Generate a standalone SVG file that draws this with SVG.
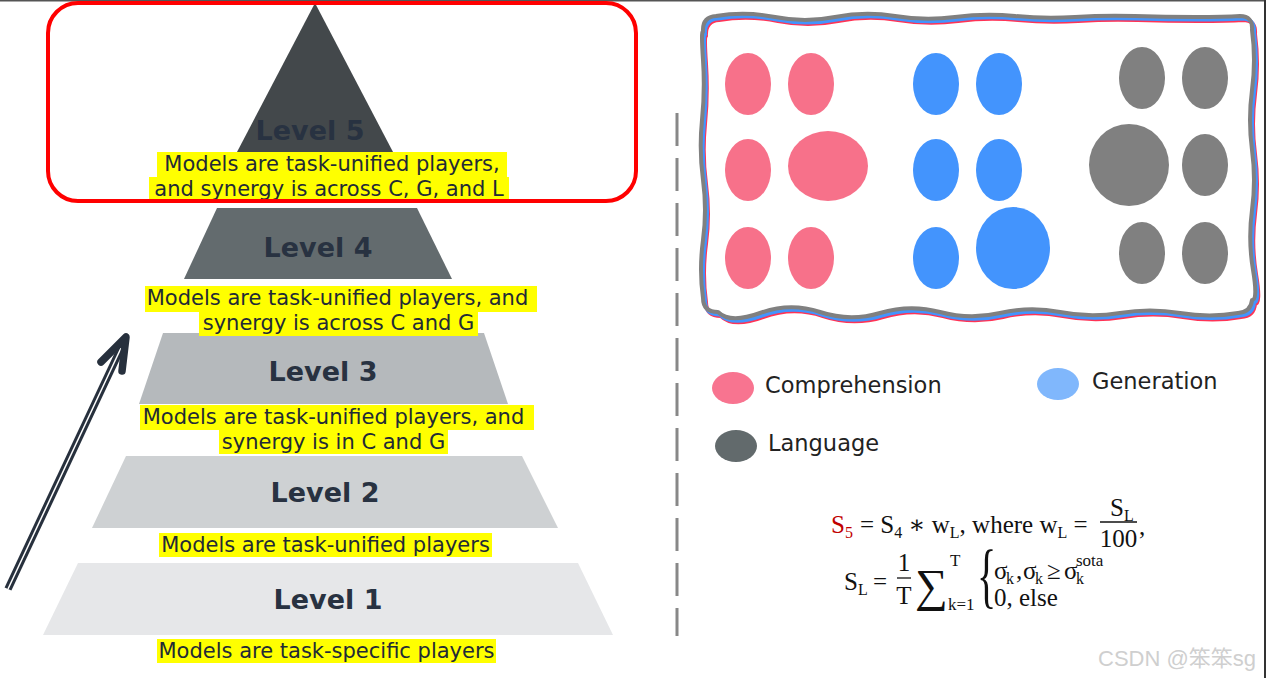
<svg xmlns="http://www.w3.org/2000/svg" width="1266" height="678" viewBox="0 0 1266 678">
<style>
.lvl{font-family:"DejaVu Sans",Verdana,sans-serif;font-weight:bold;font-size:27px;fill:#283241;text-anchor:middle}
.desc{font-family:"DejaVu Sans",Verdana,sans-serif;font-size:21px;fill:#222a36;text-anchor:middle}
.hl{fill:#ffff00}
.leg{font-family:"DejaVu Sans",Verdana,sans-serif;font-size:22.5px;fill:#222}
.m{font-family:"Liberation Serif","DejaVu Serif",serif;font-size:25px;fill:#111}
.ms{font-size:16px}
.m17{font-size:17px}
.pk{fill:#f7718a}
.bl{fill:#4394fd}
.gr{fill:#808080}
.wave{fill:none;stroke-width:4;stroke-linejoin:round}
</style>
<defs>
<path id="wavy" d="M716 16 Q745 11 775 17 T835 17 T895 16 T955 17 T1015 16 T1075 17 T1135 16 T1195 17 T1240 16 Q1253 16 1252 30 Q1256 60 1252 90 T1252 150 T1252 210 T1253 270 T1252 300 Q1251 312 1238 313 Q1210 318 1180 313 T1120 313 T1060 312 T1000 313 T940 312 T880 313 T820 312 T760 313 T718 312 Q703 312 703 298 Q699 270 703 240 T703 180 T702 120 T703 60 T703 32 Q702 17 716 16 Z"/>
</defs>
<rect width="1266" height="678" fill="#fff"/>
<line x1="0" y1="0.75" x2="1266" y2="0.75" stroke="#555" stroke-width="1.5"/>
<line x1="1265" y1="0" x2="1265" y2="678" stroke="#333" stroke-width="2"/>

<g id="level1">
<polygon points="78,563 578,563 613,635 43,635" fill="#e6e7e9"/>
<text class="lvl" x="328" y="609">Level 1</text>
<rect class="hl" x="157" y="639" width="339" height="24"/>
<text class="desc" x="326.5" y="658">Models are task-specific players</text>
</g>
<g id="level2">
<polygon points="126,456 522,456 558,528 92,528" fill="#ced1d3"/>
<text class="lvl" x="325" y="502">Level 2</text>
<rect class="hl" x="159" y="533" width="333" height="24"/>
<text class="desc" x="325.5" y="552">Models are task-unified players</text>
</g>
<g id="level3">
<polygon points="163,333 484,333 508,404 139,404" fill="#b5b9bc"/>
<text class="lvl" x="323" y="381">Level 3</text>
<rect class="hl" x="140" y="405" width="394" height="25"/>
<rect class="hl" x="219" y="430" width="229" height="24"/>
<text class="desc" x="333.5" y="424">Models are task-unified players, and</text>
<text class="desc" x="333.5" y="449">synergy is in C and G</text>
</g>
<g id="level4">
<polygon points="217,208 417,208 452,279 184,279" fill="#636b6e"/>
<text class="lvl" x="318" y="257">Level 4</text>
<rect class="hl" x="145" y="286" width="392" height="26"/>
<rect class="hl" x="199" y="312" width="279" height="24"/>
<text class="desc" x="337.5" y="305">Models are task-unified players, and</text>
<text class="desc" x="338.5" y="330">synergy is across C and G</text>
</g>
<g id="level5">
<polygon points="315,3 393,152 237,152" fill="#43484b"/>
<text class="lvl" x="310" y="140">Level 5</text>
<rect class="hl" x="157" y="152" width="350" height="25"/>
<rect class="hl" x="149" y="177" width="360" height="24"/>
<text class="desc" x="332" y="171">Models are task-unified players,</text>
<text class="desc" x="329" y="196">and synergy is across C, G, and L</text>
</g>
<g id="highlight-box">
<rect x="48" y="3" width="588" height="198" rx="30" fill="none" stroke="#ff0000" stroke-width="4"/>
</g>

<g id="connectors">
<line x1="8" y1="589" x2="122" y2="346" stroke="#27303d" stroke-width="7.5"/>
<line x1="8" y1="589" x2="121" y2="348" stroke="#fff" stroke-width="1.5"/>
<polyline points="101,362 126,337 122,371" fill="none" stroke="#27303d" stroke-width="7.5" stroke-linecap="round" stroke-linejoin="round"/>
</g>

<g id="divider">
<line x1="677" y1="113" x2="677" y2="636" stroke="#888" stroke-width="3" stroke-dasharray="33 12"/>
</g>

<g id="panel">
<use href="#wavy" class="wave" stroke="#ff3355" transform="translate(3,4)"/>
<use href="#wavy" class="wave" stroke="#4394fd" transform="translate(2,2.5)"/>
<use href="#wavy" class="wave" stroke="#808080"/>
<ellipse class="pk" cx="748" cy="84" rx="23" ry="31"/>
<ellipse class="pk" cx="811" cy="84" rx="23" ry="31"/>
<ellipse class="pk" cx="748" cy="170" rx="23" ry="31"/>
<ellipse class="pk" cx="828" cy="166" rx="40" ry="35"/>
<ellipse class="pk" cx="748" cy="258" rx="23" ry="31"/>
<ellipse class="pk" cx="811" cy="258" rx="23" ry="31"/>
<ellipse class="bl" cx="936" cy="84" rx="23" ry="31"/>
<ellipse class="bl" cx="999" cy="84" rx="23" ry="31"/>
<ellipse class="bl" cx="936" cy="170" rx="23" ry="31"/>
<ellipse class="bl" cx="999" cy="170" rx="23" ry="31"/>
<ellipse class="bl" cx="936" cy="258" rx="23" ry="31"/>
<ellipse class="bl" cx="1013" cy="248" rx="37" ry="41"/>
<ellipse class="gr" cx="1142" cy="78" rx="23" ry="31"/>
<ellipse class="gr" cx="1205" cy="78" rx="23" ry="31"/>
<ellipse class="gr" cx="1129" cy="165" rx="40" ry="41"/>
<ellipse class="gr" cx="1205" cy="165" rx="23" ry="31"/>
<ellipse class="gr" cx="1142" cy="253" rx="23" ry="31"/>
<ellipse class="gr" cx="1205" cy="253" rx="23" ry="31"/>
</g>

<g id="legend-comprehension">
<ellipse cx="733" cy="388" rx="21" ry="16" fill="#f87490"/>
<text class="leg" x="765" y="393">Comprehension</text>
</g>
<g id="legend-generation">
<ellipse cx="1058" cy="384" rx="21" ry="16" fill="#80b7fc"/>
<text class="leg" x="1092" y="389">Generation</text>
</g>
<g id="legend-language">
<ellipse cx="736" cy="446" rx="21" ry="16" fill="#626a6c"/>
<text class="leg" x="768" y="451">Language</text>
</g>

<g id="formula">
<text class="m" x="831" y="533"><tspan fill="#c00000">S</tspan><tspan class="ms" fill="#c00000" dy="5">5</tspan><tspan dy="-5" x="860">= S</tspan><tspan class="ms" dy="5">4</tspan><tspan dy="-5"> ∗ w</tspan><tspan class="ms" dy="5">L</tspan><tspan dy="-5">, where w</tspan><tspan class="ms" dy="5">L</tspan><tspan dy="-5"> =</tspan></text>
<text class="m" x="1110" y="516">S<tspan class="ms" dy="5">L</tspan></text>
<line x1="1100" y1="522" x2="1137" y2="522" stroke="#111" stroke-width="1.3"/>
<text class="m" x="1118.5" y="547" text-anchor="middle">100</text>
<text class="m" x="1139" y="535">,</text>
<text class="m" x="844" y="590">S<tspan class="ms" dy="5">L</tspan><tspan dy="-5" x="873">=</tspan></text>
<text class="m" x="904" y="571" text-anchor="middle">1</text>
<line x1="897" y1="578" x2="911" y2="578" stroke="#111" stroke-width="1.3"/>
<text class="m" x="904" y="604" text-anchor="middle">T</text>
<text class="m" x="915" y="601" style="font-size:46px">∑</text>
<text class="m m17" x="950" y="566">T</text>
<text class="m m17" x="948" y="610">k=1</text>
<text class="m" transform="translate(977,599) scale(1,1.8)" style="font-size:40px">{</text>
<text class="m" x="994" y="579">σ</text>
<text class="m ms" x="1006" y="584">k</text>
<text class="m" x="1016" y="579">,</text>
<text class="m" x="1023" y="579">σ</text>
<text class="m ms" x="1035" y="584">k</text>
<text class="m" x="1047" y="579">≥</text>
<text class="m" x="1064" y="579">σ</text>
<text class="m m17" x="1076" y="566">sota</text>
<text class="m ms" x="1076" y="584">k</text>
<text class="m" x="994" y="606">0, else</text>
</g>

<g id="watermark">
<text x="1098" y="666" font-family="'Liberation Sans','Noto Sans CJK SC',sans-serif" font-size="22" fill="#cfcfcf">CSDN @笨笨sg</text>
</g>
</svg>
